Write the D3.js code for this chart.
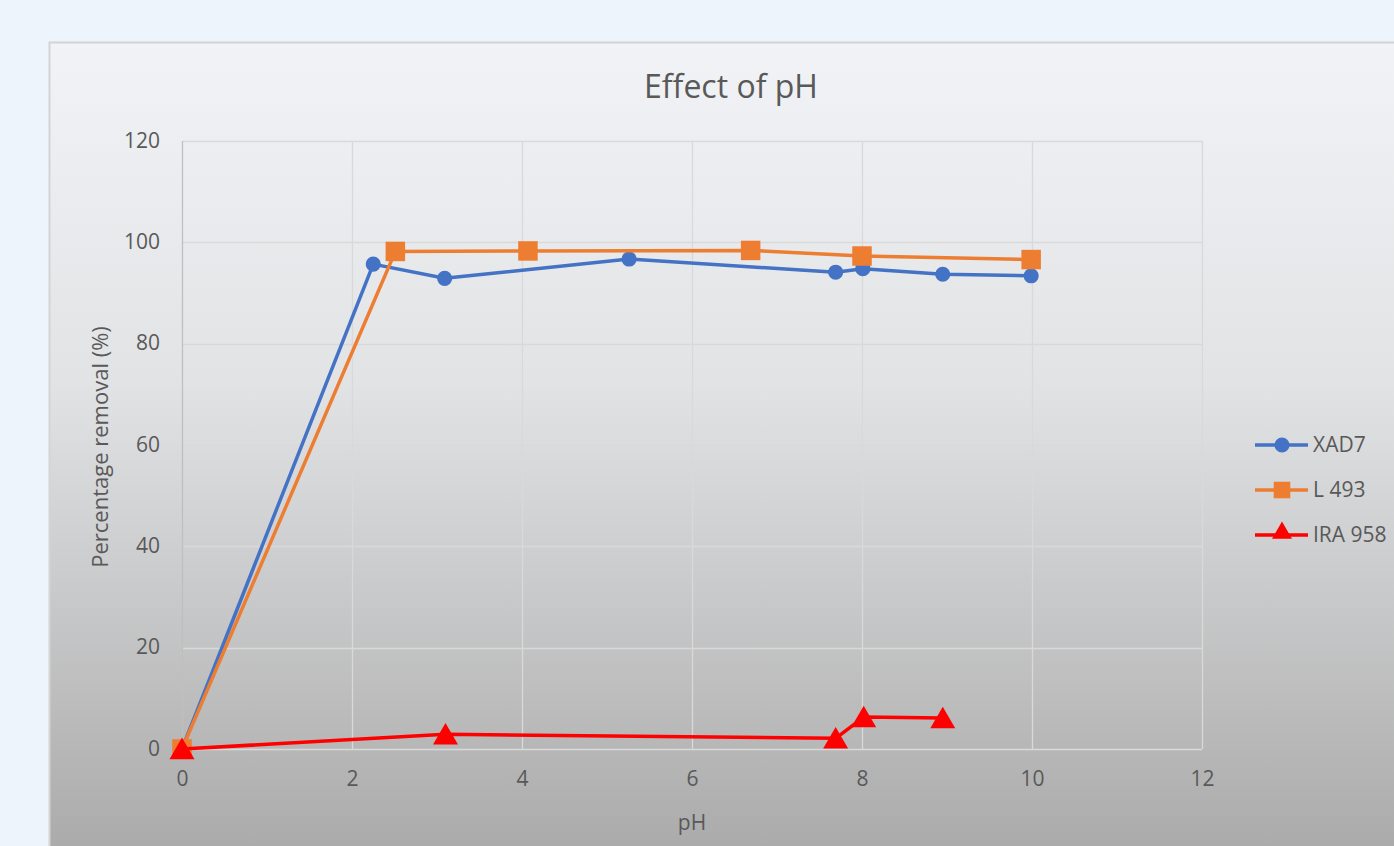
<!DOCTYPE html>
<html>
  <head>
    <title>Effect of pH</title>
    <script src="https://d3js.org/d3.v7.min.js"></script>
    <style>
      body { margin: 0; background: #eef4fb; overflow: hidden; }
      svg { display: block; font-family: "Open Sans", "Noto Sans", sans-serif; }
    </style>
  </head>
  <body>
    <div id="chart"></div>
    <script>
      // data
      var seriesNames = ["XAD7", "L 493", "IRA 958"];
      var xad7X = [0, 2.25, 3.09, 5.26, 7.69, 8.01, 8.95, 9.99];
      var xad7Y = [0, 95.7, 92.9, 96.7, 94.1, 94.8, 93.7, 93.4];
      var l493X = [0, 2.51, 4.07, 6.69, 8.0, 9.99];
      var l493Y = [0, 98.2, 98.3, 98.4, 97.3, 96.6];
      var ira958X = [0, 3.1, 7.69, 8.02, 8.95];
      var ira958Y = [0, 2.9, 2.1, 6.3, 6.1];
      var xTicks = [0, 2, 4, 6, 8, 10, 12];
      var yTicks = [0, 20, 40, 60, 80, 100, 120];

      var W = 1394, H = 846;
      var plot = { left: 182, right: 1202, top: 141, bottom: 749 };

      var svg = d3.select("#chart").append("svg")
        .attr("width", W)
        .attr("height", H);

      var defs = svg.append("defs");
      var grad = defs.append("linearGradient")
        .attr("id", "bg")
        .attr("x1", 0).attr("y1", 0).attr("x2", 0).attr("y2", 1);
      grad.append("stop").attr("offset", "0%").attr("stop-color", "#f1f3f6");
      grad.append("stop").attr("offset", "40%").attr("stop-color", "#e2e3e5");
      grad.append("stop").attr("offset", "100%").attr("stop-color", "#a6a6a6");

      // chart area (runs off the right and bottom edges)
      svg.append("rect")
        .attr("x", 49.5).attr("y", 42.5)
        .attr("width", W + 20).attr("height", H)
        .attr("fill", "url(#bg)")
        .attr("stroke", "#d4d4d4")
        .attr("stroke-width", 2);

      var x = d3.scaleLinear().domain([0, 12]).range([plot.left, plot.right]);
      var y = d3.scaleLinear().domain([0, 120]).range([plot.bottom, plot.top]);

      // gridlines
      svg.append("g").selectAll("line.h")
        .data(yTicks)
        .enter().append("line")
        .attr("x1", plot.left).attr("x2", plot.right)
        .attr("y1", function(d) { return Math.round(y(d)) + 0.5; })
        .attr("y2", function(d) { return Math.round(y(d)) + 0.5; })
        .attr("stroke", "#d9d9d9").attr("stroke-width", 1.3);

      svg.append("g").selectAll("line.v")
        .data(xTicks)
        .enter().append("line")
        .attr("y1", plot.top).attr("y2", plot.bottom)
        .attr("x1", function(d) { return Math.round(x(d)) + 0.5; })
        .attr("x2", function(d) { return Math.round(x(d)) + 0.5; })
        .attr("stroke", function(d) { return d === 0 ? "#bfbfbf" : "#d9d9d9"; })
        .attr("stroke-width", 1.3);

      // axes (labels only)
      var xAxis = svg.append("g")
        .attr("transform", "translate(0," + (plot.bottom + 26) + ")")
        .call(d3.axisBottom(x).tickValues(xTicks).tickSize(0).tickPadding(0));
      var yAxis = svg.append("g")
        .attr("transform", "translate(" + (plot.left - 22) + ",0)")
        .call(d3.axisLeft(y).tickValues(yTicks).tickSize(0).tickPadding(0));
      [xAxis, yAxis].forEach(function(a) {
        a.select(".domain").remove();
        a.selectAll("text")
          .attr("font-family", "Open Sans, sans-serif")
          .attr("font-size", "21px")
          .attr("fill", "#595959");
      });
      xAxis.selectAll("text").attr("dy", "0.5em");
      yAxis.selectAll("text").attr("dy", "0.3em");

      svg.append("text")
        .text("Effect of pH")
        .attr("x", 731).attr("y", 98)
        .attr("text-anchor", "middle")
        .attr("font-size", "32px")
        .attr("fill", "#595959");

      svg.append("text")
        .text("pH")
        .attr("x", x(6)).attr("y", 830)
        .attr("text-anchor", "middle")
        .attr("font-size", "21px")
        .attr("fill", "#595959");

      svg.append("text")
        .text("Percentage removal (%)")
        .attr("transform", "translate(108," + (y(60) + 2) + ") rotate(-90)")
        .attr("text-anchor", "middle")
        .attr("font-size", "22px")
        .attr("fill", "#595959");

      var series = [
        { name: seriesNames[0], xs: xad7X, ys: xad7Y, color: "#4472c4", shape: "circle", legScale: 1 },
        { name: seriesNames[1], xs: l493X, ys: l493Y, color: "#ed7d31", shape: "square", legScale: 0.85 },
        { name: seriesNames[2], xs: ira958X, ys: ira958Y, color: "#ff0000", shape: "triangle", legScale: 0.8 }
      ];

      function symbolFor(shape) {
        if (shape === "circle") return d3.symbol().type(d3.symbolCircle).size(180)();
        if (shape === "square") return d3.symbol().type(d3.symbolSquare).size(380)();
        return d3.symbol().type(d3.symbolTriangle).size(270)();
      }

      var line = d3.line()
        .x(function(d) { return x(d[0]); })
        .y(function(d) { return y(d[1]); });

      series.forEach(function(s) {
        var pts = s.xs.map(function(v, i) { return [v, s.ys[i]]; });
        var g = svg.append("g");
        g.append("path")
          .datum(pts)
          .attr("d", line)
          .attr("fill", "none")
          .attr("stroke", s.color)
          .attr("stroke-width", 3.5)
          .attr("stroke-linejoin", "round");
        g.selectAll("path.m")
          .data(pts)
          .enter().append("path")
          .attr("class", "m")
          .attr("d", symbolFor(s.shape))
          .attr("transform", function(d) {
            var dy = s.shape === "triangle" ? 3 : 0;
            return "translate(" + x(d[0]) + "," + (y(d[1]) + dy) + ")";
          })
          .attr("fill", s.color);
      });

      // legend
      var legend = svg.append("g");
      series.forEach(function(s, i) {
        var ly = 445 + i * 45;
        legend.append("line")
          .attr("x1", 1255).attr("x2", 1308)
          .attr("y1", ly).attr("y2", ly)
          .attr("stroke", s.color).attr("stroke-width", 3.5);
        legend.append("path")
          .attr("d", symbolFor(s.shape))
          .attr("transform", "translate(1282," + (ly + (s.shape === "triangle" ? -2 : 0)) + ") scale(" + s.legScale + ")")
          .attr("fill", s.color);
        legend.append("text")
          .text(s.name)
          .attr("x", 1313).attr("y", ly)
          .attr("dy", "0.35em")
          .attr("font-size", "21px")
          .attr("fill", "#595959");
      });
    </script>
  </body>
</html>
